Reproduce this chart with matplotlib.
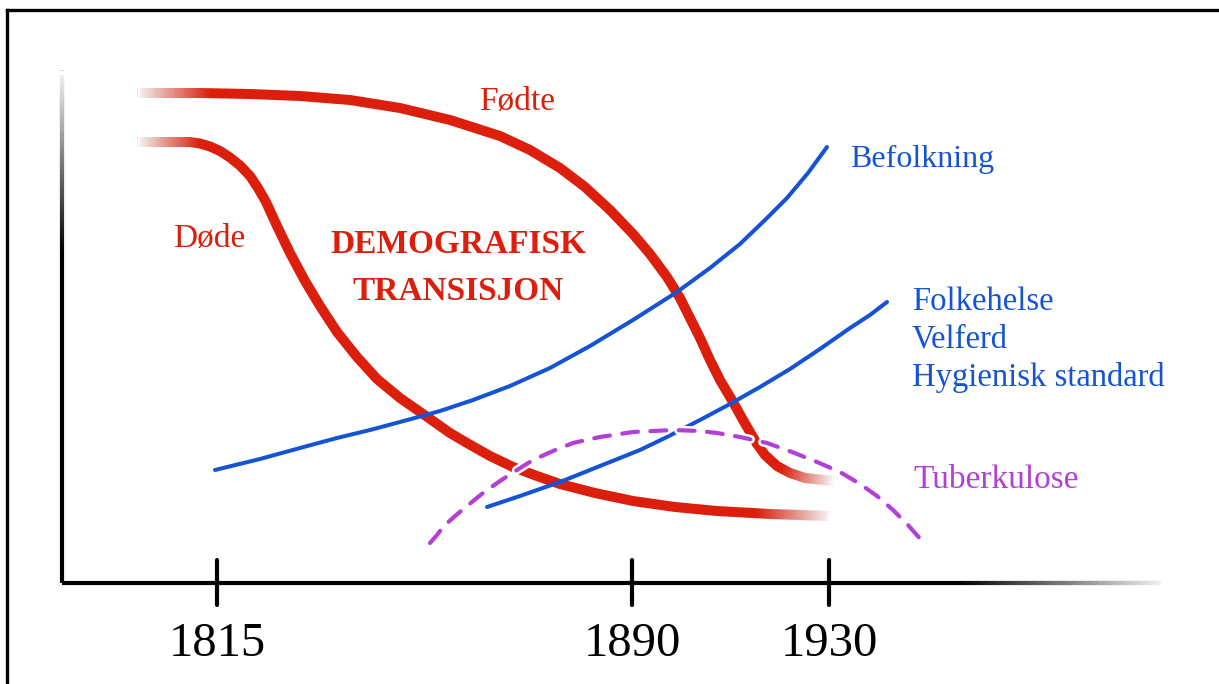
import numpy as np
import matplotlib
matplotlib.use("Agg")
import matplotlib.pyplot as plt
from matplotlib.lines import Line2D
import matplotlib.patheffects as pe

# diagram coordinates: pixels right of the y axis / above the x axis
X0, Y0 = 62, 583

fodte_px = [(137, 93), (200, 93), (250, 94), (300, 96), (350, 100), (400, 108), (450, 120),
            (500, 136), (530, 150), (560, 168), (585, 187), (610, 210), (633, 234), (650, 254),
            (667, 277), (680, 298), (690, 318), (700, 338), (710, 360), (720, 380), (733, 402),
            (743, 420), (750, 432), (757, 444), (765, 455), (777, 466), (790, 473), (805, 478),
            (833, 481)]

dode_px = [(137, 142), (190, 142), (200, 143.5), (210, 146.5), (220, 151), (230, 157.5),
           (240, 165.5), (250, 176), (258, 188), (266, 202), (277, 226), (290, 253), (305, 281),
           (320, 306), (337, 332), (357, 357), (377, 379), (400, 398), (423, 414), (450, 433),
           (467, 443), (490, 456), (513, 467), (537, 476), (560, 484), (595, 493), (633, 501),
           (675, 507), (717, 511), (770, 514), (830, 516)]

befolk_px = [(215, 470), (260, 459), (300, 448), (337, 438), (370, 430), (400, 422), (440, 411),
             (473, 400), (510, 386), (550, 368), (590, 346), (633, 320), (677, 292), (710, 268),
             (740, 244), (765, 220), (787, 198), (808, 173), (827, 147)]

helse_px = [(487, 507), (520, 496), (560, 482), (600, 466), (640, 450), (667, 437), (700, 420),
            (730, 404), (760, 387), (790, 369), (820, 349), (850, 328), (870, 315), (887, 302)]

tb_px = [(430, 543), (437, 535), (443, 527), (455, 516), (467, 506), (483, 493), (500, 481),
         (517, 470), (533, 460), (553, 451), (573, 443), (600, 437), (633, 432), (673, 430),
         (700, 431), (717, 433), (740, 437), (767, 443), (792, 452), (817, 462), (840, 472),
         (860, 484), (877, 496), (893, 510), (908, 525), (923, 542)]

tick_px = [217, 632, 829]
tick_labels = ["1815", "1890", "1930"]

RED = "#db1f0c"
BLUE = "#1452d6"
PURPLE = "#b23fd6"
SERIF = ["Liberation Serif", "DejaVu Serif"]


def to_xy(pts):
    a = np.array(pts, dtype=float)
    return a[:, 0] - X0, Y0 - a[:, 1]


def cut(xs, ys, t, keep_below=True, axis=0):
    """part of a polyline with coordinate <= t (or >= t)"""
    c = xs if axis == 0 else ys
    if not keep_below:
        c = -c
        t = -t
    px, py = [], []
    for i in range(len(xs)):
        if c[i] <= t:
            px.append(xs[i]); py.append(ys[i])
        if i + 1 < len(xs) and (c[i] - t) * (c[i + 1] - t) < 0:
            f = (t - c[i]) / (c[i + 1] - c[i])
            px.append(xs[i] + f * (xs[i + 1] - xs[i]))
            py.append(ys[i] + f * (ys[i + 1] - ys[i]))
    return px, py


def fade_end(ax, xs, ys, lw, s_clear, s_full, axis=0, n=40, zorder=2.5):
    """lay white strokes over one end of a line so it fades out towards s_clear"""
    xs = np.asarray(xs, float); ys = np.asarray(ys, float)
    below = s_clear < s_full
    for j in range(1, n + 1):
        t = s_clear + (s_full - s_clear) * j / n
        px, py = cut(xs, ys, t, keep_below=below, axis=axis)
        if len(px) > 1:
            ax.plot(px, py, color="white", alpha=1.0 / j, lw=lw + 2.0,
                    solid_capstyle="butt", zorder=zorder)


fig = plt.figure(figsize=(12.19, 6.84), dpi=100)
ax = fig.add_axes([0, 0, 1, 1])
ax.set_xlim(-X0, 1219 - X0)
ax.set_ylim(Y0 - 684, Y0)
ax.axis("off")

# frame (left and top edges)
fig.add_artist(Line2D([7 / 1219, 7 / 1219], [0, 1 - 10 / 684], color="black", lw=2.4,
                      solid_capstyle="projecting"))
fig.add_artist(Line2D([7 / 1219, 1], [1 - 10 / 684, 1 - 10 / 684], color="black", lw=2.4,
                      solid_capstyle="projecting"))

# axes, fading out at the far ends
ax.plot([0, 1103], [0, 0], color="black", lw=3.0, solid_capstyle="butt", zorder=1)
fade_end(ax, [0, 1103], [0, 0], 3.0, 1103, 898, zorder=1.5)
ax.plot([0, 0], [0, 513], color="black", lw=3.0, solid_capstyle="butt", zorder=1)
fade_end(ax, [0, 0], [0, 513], 3.0, 513, 333, axis=1, zorder=1.5)
for t, lab in zip(tick_px, tick_labels):
    ax.plot([t - X0, t - X0], [-22, 23], color="black", lw=3.0, solid_capstyle="round", zorder=1)
    ax.text(t - X0, -73, lab, ha="center", va="baseline", fontsize=35, family=SERIF, color="black")

# birth and death rates
fx, fy = to_xy(fodte_px)
ax.plot(fx, fy, color=RED, lw=7.2, solid_capstyle="butt", solid_joinstyle="round", zorder=2)
fade_end(ax, fx, fy, 7.2, 75, 148)
fade_end(ax, fx, fy, 7.2, 771, 720)

dx, dy = to_xy(dode_px)
ax.plot(dx, dy, color=RED, lw=7.2, solid_capstyle="butt", solid_joinstyle="round", zorder=2)
fade_end(ax, dx, dy, 7.2, 75, 137)
fade_end(ax, dx, dy, 7.2, 768, 695)

# population and welfare
bx, by = to_xy(befolk_px)
ax.plot(bx, by, color=BLUE, lw=2.9, solid_capstyle="round", zorder=4)
hx, hy = to_xy(helse_px)
ax.plot(hx, hy, color=BLUE, lw=2.9, solid_capstyle="round", zorder=4)

# tuberculosis
tx, ty = to_xy(tb_px)
ax.plot(tx, ty, color=PURPLE, lw=3.0, dashes=(3.8, 3.0), dash_capstyle="round", zorder=5,
        path_effects=[pe.Stroke(linewidth=6.5, foreground="white"), pe.Normal()])

# labels
ax.text(455, 473, "Fødte", ha="center", va="baseline", fontsize=24, family=SERIF, color=RED)
ax.text(111, 336, "Døde", ha="left", va="baseline", fontsize=24, family=SERIF, color=RED)
ax.text(396, 330, "DEMOGRAFISK", ha="center", va="baseline", fontsize=24, family=SERIF,
        color=RED, fontweight="bold")
ax.text(396, 283, "TRANSISJON", ha="center", va="baseline", fontsize=24, family=SERIF,
        color=RED, fontweight="bold")
ax.text(788, 416, "Befolkning", ha="left", va="baseline", fontsize=23, family=SERIF, color=BLUE)
for i, lab in enumerate(["Folkehelse", "Velferd", "Hygienisk standard"]):
    ax.text(850, 273 - 38 * i, lab, ha="left", va="baseline", fontsize=23.5, family=SERIF, color=BLUE)
ax.text(851, 95, "Tuberkulose", ha="left", va="baseline", fontsize=24, family=SERIF, color=PURPLE)

fig.savefig("out.png", dpi=100, facecolor="white")
